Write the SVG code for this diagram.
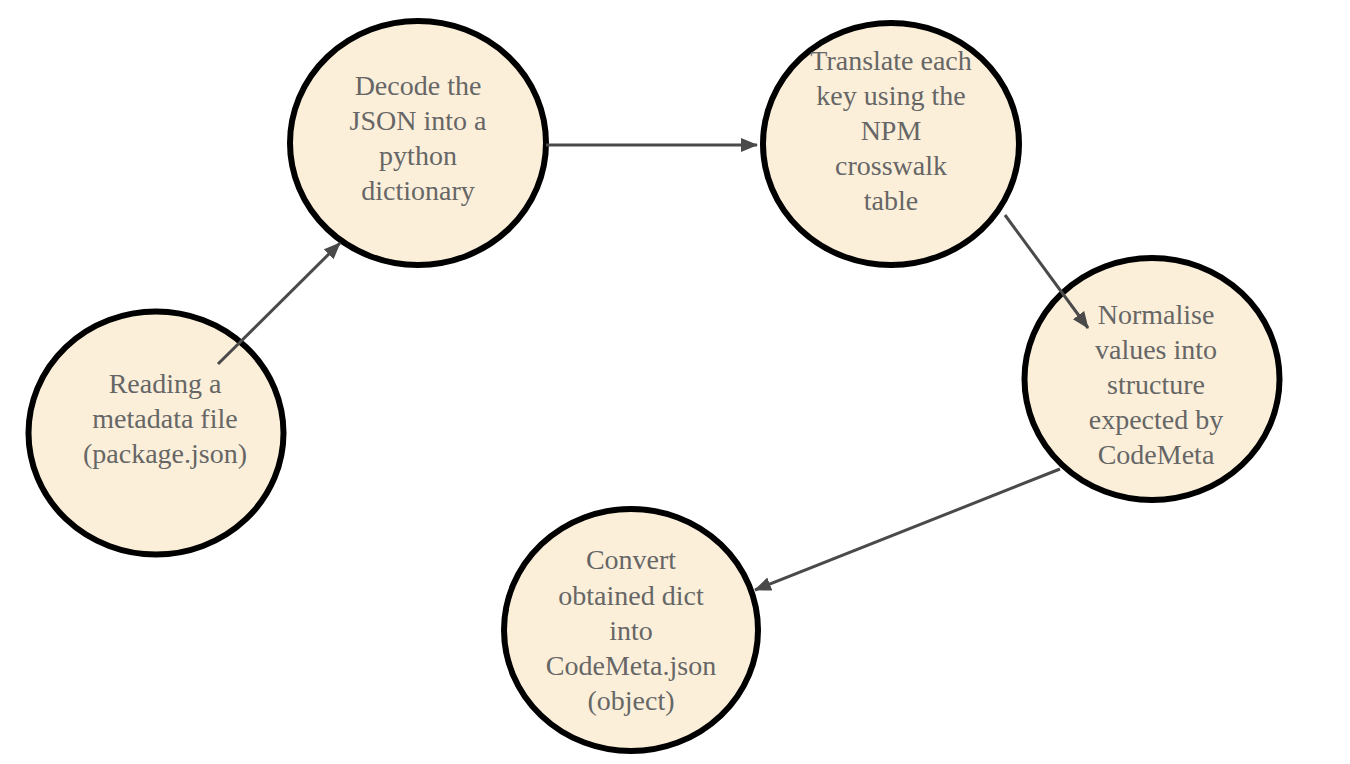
<svg xmlns="http://www.w3.org/2000/svg" width="1350" height="764" viewBox="0 0 1350 764">
<style>
.node ellipse{fill:#fbefda;stroke:#000;stroke-width:6}
.node text{font-family:"Liberation Serif","Times New Roman",serif;font-size:28px;fill:#666;text-anchor:middle}
.conn line{stroke:#4a4a4a;stroke-width:3;marker-end:url(#ah)}
</style>
<defs>
<marker id="ah" markerUnits="userSpaceOnUse" markerWidth="18" markerHeight="16" refX="16" refY="7" orient="auto">
<path d="M0,0 L17,7 L0,14 z" fill="#4a4a4a"/>
</marker>
</defs>
<rect width="1350" height="764" fill="#fff"/>
<g id="n1" class="node">
<ellipse cx="156" cy="433" rx="127.5" ry="121.5"/>
<text x="165" y="393">Reading a</text>
<text x="165" y="428">metadata file</text>
<text x="165" y="463">(package.json)</text>
</g>
<g id="n2" class="node">
<ellipse cx="418" cy="143" rx="128" ry="122"/>
<text x="418" y="95">Decode the</text>
<text x="418" y="130">JSON into a</text>
<text x="418" y="165">python</text>
<text x="418" y="200">dictionary</text>
</g>
<g id="n3" class="node">
<ellipse cx="891" cy="144" rx="128" ry="121"/>
<text x="891" y="70">Translate each</text>
<text x="891" y="105">key using the</text>
<text x="891" y="140">NPM</text>
<text x="891" y="175">crosswalk</text>
<text x="891" y="210">table</text>
</g>
<g id="n4" class="node">
<ellipse cx="1152" cy="379" rx="127.5" ry="121"/>
<text x="1156" y="324">Normalise</text>
<text x="1156" y="359">values into</text>
<text x="1156" y="394">structure</text>
<text x="1156" y="429">expected by</text>
<text x="1156" y="464">CodeMeta</text>
</g>
<g id="n5" class="node">
<ellipse cx="631" cy="630" rx="127" ry="121"/>
<text x="631" y="569">Convert</text>
<text x="631" y="605">obtained dict</text>
<text x="631" y="640">into</text>
<text x="631" y="675">CodeMeta.json</text>
<text x="631" y="710">(object)</text>
</g>
<g id="connectors" class="conn">
<line x1="218" y1="364" x2="340" y2="243"/>
<line x1="546" y1="145" x2="757" y2="145"/>
<line x1="1005" y1="215" x2="1088" y2="328"/>
<line x1="1060" y1="469" x2="755" y2="590"/>
</g>
</svg>
